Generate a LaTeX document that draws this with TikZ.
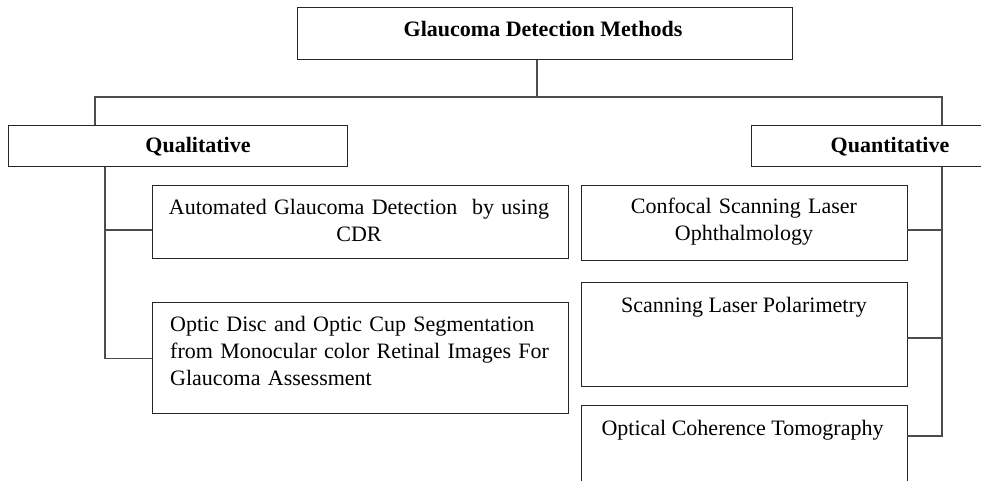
\documentclass[tikz,border=0pt]{standalone}
\usepackage{fontspec}
\setmainfont{Liberation Serif}
\begin{document}
\begin{tikzpicture}[x=1pt,y=-1pt,
  box/.style={draw=black!85,line width=1.3pt,rectangle,inner sep=0pt,anchor=north west},
  conn/.style={draw=black!70,line width=1.3pt},
  txt/.style={inner sep=0pt,font=\fontsize{22}{27}\selectfont},
  btxt/.style={inner sep=0pt,font=\fontsize{22}{27}\selectfont\bfseries}]
\useasboundingbox (0,0) rectangle (981,481);
\clip (0,0) rectangle (981,481);
% boxes
\node[box,minimum width=495pt,minimum height=52pt] (top) at (297,7) {};
\node[box,minimum width=339pt,minimum height=41pt] (qual) at (8,125) {};
\node[box,minimum width=280pt,minimum height=41pt] (quant) at (751,125) {};
\node[box,minimum width=416pt,minimum height=73pt] (auto) at (152,185) {};
\node[box,minimum width=416pt,minimum height=111pt] (optic) at (152,302) {};
\node[box,minimum width=326pt,minimum height=75pt] (conf) at (581,185) {};
\node[box,minimum width=326pt,minimum height=104pt] (slp) at (581,282) {};
\node[box,minimum width=326pt,minimum height=100pt] (oct) at (581,405) {};
% texts
\node[btxt,anchor=base] (ttop) at (543,37) {Glaucoma Detection Methods};
\node[btxt,anchor=base] (tqual) at (198,153) {Qualitative};
\node[btxt,anchor=base] (tquant) at (890,153) {Quantitative};
\node[txt,anchor=base,text width=400pt,align=center] (tauto) at (359,214) {Automated Glaucoma Detection\ \ by using\\CDR};
\node[txt,anchor=base west,text width=400pt,align=left] (toptic) at (170,331) {Optic Disc and Optic Cup Segmentation\\from Monocular color Retinal Images For\\Glaucoma Assessment};
\node[txt,anchor=base,text width=320pt,align=center] (tconf) at (744,213) {Confocal Scanning Laser\\Ophthalmology};
\node[txt,anchor=base] (tslp) at (744,312) {Scanning Laser Polarimetry};
\node[txt,anchor=base] (toct) at (742.5,435) {Optical Coherence Tomography};
% connector coordinates
\coordinate (j) at (537,97);
\coordinate (jl) at (95,97);
\coordinate (jr) at (942,97);
\coordinate (tl) at (105,0);
\coordinate (tr) at (942,0);
\coordinate (a1) at (152,230);
\coordinate (c1) at (907,230);
\coordinate (s1) at (907,338);
\coordinate (o1) at (907,436);
% connectors
\draw[conn] (j |- top.south) -- (j);
\draw[conn] (jl |- qual.north) -- (jl) -- (jr) -- (jr |- quant.north);
\draw[conn] (tl |- qual.south) |- (optic.west);
\draw[conn] (tl |- a1) -- (a1);
\draw[conn] (tr |- quant.south) |- (o1);
\draw[conn] (c1) -- (tr |- c1);
\draw[conn] (s1) -- (tr |- s1);
\end{tikzpicture}
\end{document}
